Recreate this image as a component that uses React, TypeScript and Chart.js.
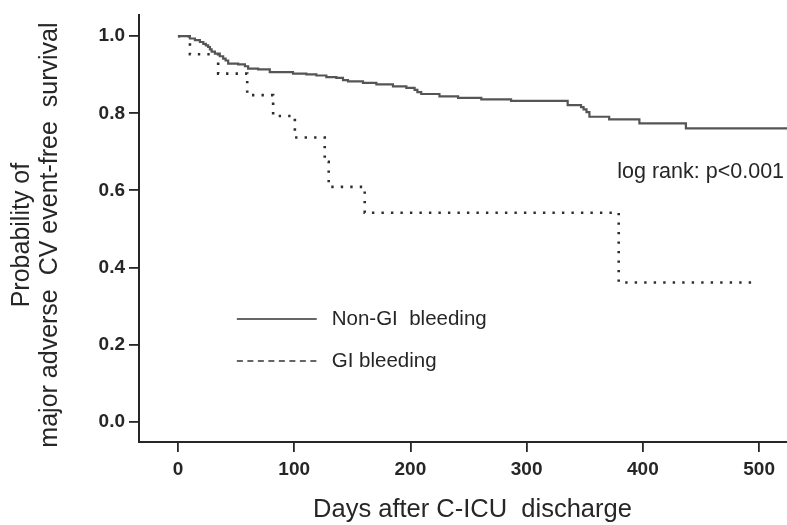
import React, { useEffect, useRef } from 'react';
import { Chart, registerables } from 'chart.js';

Chart.register(...registerables);

// Kaplan-Meier steps: day of event, survival after it
const nonGiDays = [
  0, 10.3, 14.6, 18.9, 21.8, 24, 26, 27.5, 29, 31.8, 36, 38.9, 41, 43.2, 51.8,
  57.6, 60.4, 69, 79, 99, 110.5, 119.1, 127.7, 136.3, 142, 146.3, 159.2, 170.7,
  185, 196.5, 203.6, 206, 209.3, 225, 241, 261, 286.6, 335.3, 346.8, 349,
  351.5, 354, 371, 397, 437, 524
];
const nonGiSurvival = [
  1.0, 0.994, 0.99, 0.985, 0.98, 0.976, 0.972, 0.966, 0.96, 0.955, 0.948,
  0.942, 0.937, 0.929, 0.927, 0.922, 0.916, 0.914, 0.907, 0.903, 0.901, 0.898,
  0.894, 0.892, 0.886, 0.883, 0.879, 0.875, 0.87, 0.866, 0.861, 0.855, 0.85,
  0.844, 0.84, 0.836, 0.832, 0.821, 0.816, 0.81, 0.803, 0.791, 0.784, 0.774,
  0.761, 0.761
];

const giDays = [0, 10.3, 34.6, 59.6, 81.9, 100.6, 126.3, 129.7, 160.7, 379.2, 493.7];
const giSurvival = [1.0, 0.953, 0.903, 0.847, 0.793, 0.737, 0.674, 0.609, 0.542, 0.361, 0.361];

const seriesLabels = ['Non-GI  bleeding', 'GI bleeding'];
const yTitle = ['Probability of', 'major adverse  CV event-free  survival'];
const xTitle = 'Days after C-ICU  discharge';
const note = 'log rank: p<0.001';

const FONT = '"Liberation Sans", Arial, sans-serif';
const INK = '#262626';

const toPoints = (xs: number[], ys: number[]) => xs.map((x, i) => ({ x, y: ys[i] }));

// axis titles, legend and log-rank note (SPSS style layout)
const overlay = {
  id: 'kmOverlay',
  afterDraw(chart: any) {
    const { ctx, scales } = chart;
    const sx = scales.x;
    const sy = scales.y;
    ctx.save();
    ctx.fillStyle = INK;
    ctx.textBaseline = 'middle';

    // legend
    const rows = [
      { y: 0.266, dash: [] as number[] },
      { y: 0.157, dash: [6, 4.5] }
    ];
    rows.forEach((r, i) => {
      const py = sy.getPixelForValue(r.y);
      ctx.beginPath();
      ctx.setLineDash(r.dash);
      ctx.strokeStyle = '#333';
      ctx.lineWidth = 1.6;
      ctx.moveTo(sx.getPixelForValue(50.7), py);
      ctx.lineTo(sx.getPixelForValue(119.4), py);
      ctx.stroke();
      ctx.textAlign = 'left';
      ctx.font = `20.5px ${FONT}`;
      ctx.fillText(seriesLabels[i], sx.getPixelForValue(132.3), py);
    });
    ctx.setLineDash([]);

    // note
    ctx.font = `21.5px ${FONT}`;
    ctx.fillText(note, sx.getPixelForValue(378), sy.getPixelForValue(0.647));

    // x title
    ctx.textAlign = 'center';
    ctx.font = `25.5px ${FONT}`;
    ctx.fillText(xTitle, sx.getPixelForValue(253.4), chart.height - 15);

    // y title, rotated
    ctx.translate(0, sy.getPixelForValue(0.484));
    ctx.rotate(-Math.PI / 2);
    ctx.font = `25px ${FONT}`;
    yTitle.forEach((line, i) => {
      ctx.fillText(line, 0, 22 + i * 28);
    });
    ctx.restore();
  }
};

const App = () => {
  const canvasRef = useRef<HTMLCanvasElement | null>(null);
  const chartRef = useRef<Chart | null>(null);

  useEffect(() => {
    const ctx = canvasRef.current!.getContext('2d');
    if (!ctx) return;
    chartRef.current = new Chart(ctx, {
      type: 'line',
      data: {
        datasets: [
          {
            label: seriesLabels[0],
            data: toPoints(nonGiDays, nonGiSurvival),
            borderColor: '#555',
            borderWidth: 2.2,
            stepped: 'before',
            pointRadius: 0,
            fill: false
          },
          {
            label: seriesLabels[1],
            data: toPoints(giDays, giSurvival),
            borderColor: '#2e2e2e',
            borderWidth: 2.6,
            borderDash: [2.4, 7.1],
            stepped: 'before',
            pointRadius: 0,
            fill: false
          }
        ]
      },
      plugins: [overlay],
      options: {
        responsive: false,
        animation: false,
        layout: { padding: { top: 15, right: 0, bottom: 0, left: 0 } },
        plugins: {
          legend: { display: false },
          tooltip: { enabled: false }
        },
        scales: {
          x: {
            type: 'linear',
            min: -33.5,
            max: 524,
            afterFit: (scale: any) => {
              scale.height = 83;
            },
            border: { display: true, color: INK, width: 2 },
            grid: { drawOnChartArea: false, drawTicks: true, tickLength: 10, color: INK, lineWidth: 1.8 },
            ticks: {
              stepSize: 100,
              includeBounds: false,
              padding: 6,
              color: INK,
              font: { size: 19, family: FONT, weight: 'bold' },
              maxRotation: 0
            }
          },
          y: {
            min: -0.053,
            max: 1.054,
            afterFit: (scale: any) => {
              scale.width = 139;
            },
            border: { display: true, color: INK, width: 2 },
            grid: { drawOnChartArea: false, drawTicks: true, tickLength: 10, color: INK, lineWidth: 1.8 },
            ticks: {
              stepSize: 0.2,
              includeBounds: false,
              padding: 4,
              color: INK,
              font: { size: 19, family: FONT, weight: 'bold' },
              callback: (v: any) => Number(v).toFixed(1)
            }
          }
        }
      }
    });

    return () => {
      if (chartRef.current) chartRef.current.destroy();
    };
  }, []);

  return (
    <div style={{ position: 'fixed', left: 0, top: 0, width: '787px', height: '525px', background: '#fff' }}>
      <canvas ref={canvasRef} width='787' height='525'></canvas>
    </div>
  );
};

export default App;
